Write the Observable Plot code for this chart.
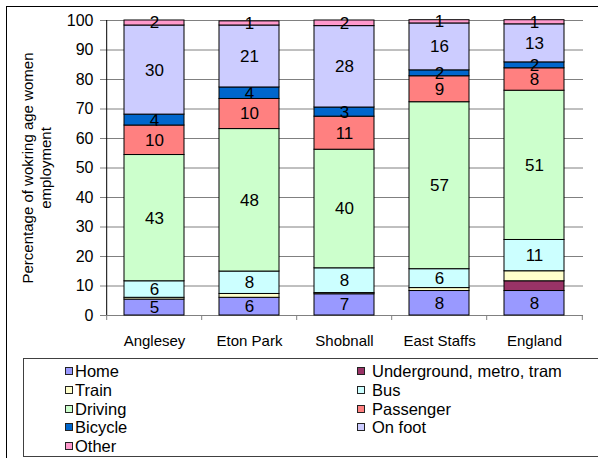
<!DOCTYPE html>
<html>
<head>
<meta charset="utf-8">
<script src="https://cdn.jsdelivr.net/npm/d3@7"></script>
<script src="https://cdn.jsdelivr.net/npm/@observablehq/plot@0.6"></script>
<style>
  html, body { margin: 0; padding: 0; background: #fff; overflow: hidden; }
  #wrap { position: relative; width: 598px; height: 458px; overflow: hidden;
          font-family: "Liberation Sans", Arial, sans-serif; }
  #frame { position: absolute; left: 6px; top: 6px; width: 640px; height: 500px;
           border: 1px solid #000; box-sizing: border-box; }
  #chart { position: absolute; left: 0; top: 0; }
  #legendBox { position: absolute; left: 23px; top: 358px; width: 640px; height: 99px;
               border: 1px solid #404040; box-sizing: border-box; }
  .item { position: absolute; height: 18px; line-height: 18px; font-size: 16.5px; color: #000; white-space: nowrap; }
  .sw { position: absolute; width: 6px; height: 6px; border: 1px solid #222; }
</style>
</head>
<body>
<div id="wrap">
  <div id="frame"></div>
  <div id="chart"></div>
  <div id="legendBox"></div>
</div>
<script>
// ---- data ----
const regions = ["Anglesey", "Eton Park", "Shobnall", "East Staffs", "England"];
const modes = ["Home", "Underground, metro, tram", "Train", "Bus", "Driving", "Passenger", "Bicycle", "On foot", "Other"];
const colors = ["#9999FF", "#993366", "#FFFFCC", "#CCFFFF", "#CCFFCC", "#FF8080", "#0066CC", "#CCCCFF", "#FF99CC"];
const home        = [5.4, 6.0, 7.2, 8.3, 8.3];
const underground = [0, 0, 0, 0, 3.3];
const train       = [0.6, 1.3, 0.4, 1.0, 3.4];
const bus         = [5.6, 7.6, 8.4, 6.4, 10.6];
const driving     = [42.8, 48.3, 40.2, 56.6, 50.6];
const passenger   = [10.0, 10.2, 11.2, 8.8, 7.6];
const bicycle     = [3.7, 3.9, 3.1, 2.0, 2.0];
const onFoot      = [30.2, 21.0, 27.6, 15.9, 12.9];
const other       = [1.7, 1.4, 1.9, 1.1, 1.4];
const unlabeled = ["Underground, metro, tram", "Train"];
const yTicks = [0, 10, 20, 30, 40, 50, 60, 70, 80, 90, 100];
const yTitle = "Percentage of wokring age women\nemployment";

const series = [home, underground, train, bus, driving, passenger, bicycle, onFoot, other];
const table = [];
regions.forEach((r, i) => modes.forEach((m, k) => table.push({region: r, mode: m, value: series[k][i]})));

// ---- layout ----
const W = 598, H = 352, mL = 105, mR = 15, mT = 20, mB = 37;
const step = (W - mL - mR) / regions.length;
const font = "'Liberation Sans', Arial, sans-serif";

const chart = Plot.plot({
  width: W, height: H,
  marginLeft: mL, marginRight: mR, marginTop: mT, marginBottom: mB,
  style: {fontFamily: font, fontSize: "15px", background: "transparent", color: "#000", overflow: "visible"},
  x: {domain: regions, paddingInner: 0.372, paddingOuter: 0.186, label: null},
  y: {domain: [0, 100], label: null},
  color: {domain: modes, range: colors},
  marks: [
    Plot.ruleY(yTicks, {stroke: "#808080", insetLeft: -5}),
    Plot.barY(table, Plot.stackY({
      x: "region", y: "value", fill: "mode", order: modes,
      filter: d => d.value > 0, stroke: "#000", strokeWidth: 1
    })),
    Plot.text(table, Plot.stackY({
      x: "region", y: "value", z: "mode", order: modes,
      text: d => unlabeled.includes(d.mode) ? null : String(Math.round(d.value)),
      fontSize: 17, fill: "#000"
    })),
    Plot.ruleX([regions[0]], {x: d => d, dx: -step / 2, y1: 0, y2: 100, stroke: "#000"}),
    Plot.ruleX(regions, {x: d => d, dx: -step / 2, y1: 0, y2: 0, insetBottom: -5, stroke: "#808080"}),
    Plot.ruleX([regions[regions.length - 1]], {x: d => d, dx: step / 2, y1: 0, y2: 0, insetBottom: -5, stroke: "#808080"}),
    Plot.axisY({ticks: yTicks, tickSize: 0, tickPadding: 12, fontSize: 16}),
    Plot.axisX({tickSize: 0, tickPadding: 20, fontSize: 15}),
    Plot.text([yTitle], {text: d => d, frameAnchor: "left", textAnchor: "middle", lineAnchor: "middle",
      dx: -69, rotate: -90, fontSize: 15, lineHeight: 1.2})
  ]
});
document.getElementById("chart").appendChild(chart);

// ---- legend ----
const wrap = d3.select("#wrap");
const colX = [65, 357];
const textX = [75, 372];
modes.forEach((m, i) => {
  const col = i % 2, row = Math.floor(i / 2);
  const cy = 371 + row * 18.8;
  wrap.append("div").attr("class", "sw")
    .style("left", colX[col] + "px").style("top", (cy - 4) + "px")
    .style("background", colors[i]);
  wrap.append("div").attr("class", "item")
    .style("left", textX[col] + "px").style("top", (cy - 9) + "px")
    .text(m);
});
</script>
</body>
</html>
